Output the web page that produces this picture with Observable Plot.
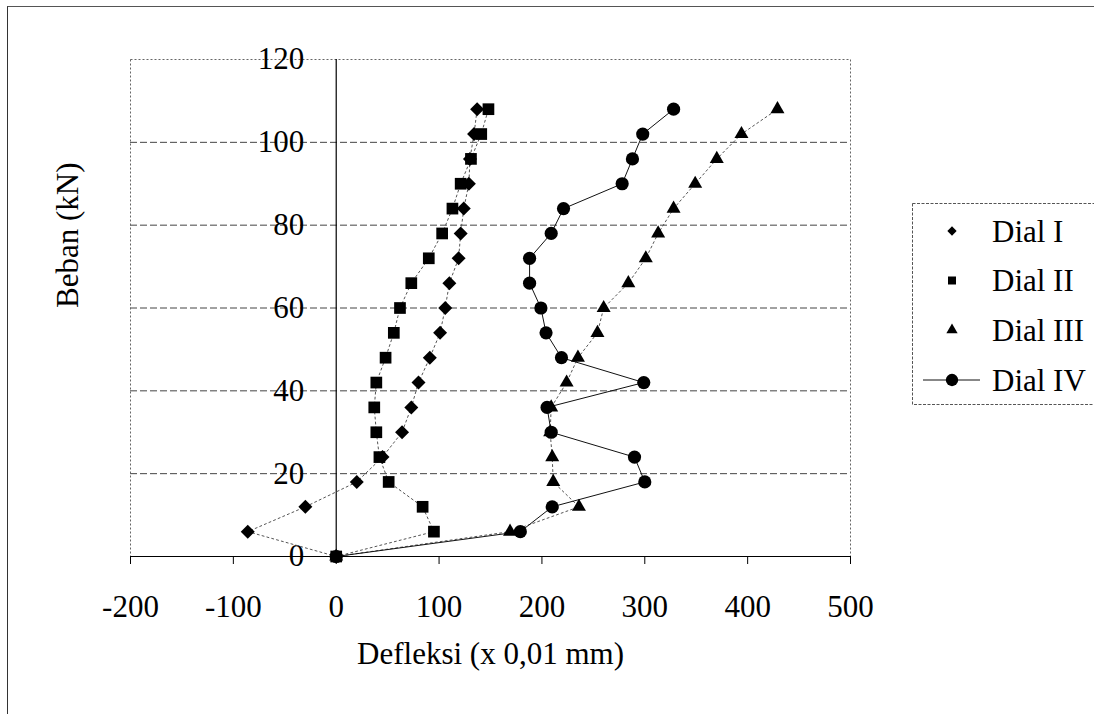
<!DOCTYPE html>
<html>
<head>
<meta charset="utf-8">
<script src="https://cdn.jsdelivr.net/npm/d3@7"></script>
<script src="https://cdn.jsdelivr.net/npm/@observablehq/plot@0.6"></script>
<style>
  html, body { margin: 0; padding: 0; background: #fff; }
  #wrap { position: relative; width: 1094px; height: 714px; overflow: hidden; font-family: "Liberation Serif", "Times New Roman", serif; }
  #border { position: absolute; left: 7px; top: 6px; width: 1200px; height: 800px; border-left: 1px solid #333; border-top: 1px solid #555; }
  #chart { position: absolute; left: 0; top: 0; }
  #legend { position: absolute; left: 0; top: 0; }
</style>
</head>
<body>
<div id="wrap">
  <div id="border"></div>
  <div id="chart"></div>
  <div id="legend"></div>
</div>
<script>
// ---- data ----
const loads = [0, 6, 12, 18, 24, 30, 36, 42, 48, 54, 60, 66, 72, 78, 84, 90, 96, 102, 108];
const dial1 = [0, -86, -30, 20, 45, 64, 73, 80, 91, 101, 106, 110, 119, 121, 124, 129, 130, 134, 137];
const dial2 = [0, 95, 84, 51, 42, 39, 37, 39, 48, 56, 62, 73, 90, 103, 113, 121, 131, 141, 148];
const dial3 = [0, 169, 236, 211, 210, 208, 209, 224, 235, 254, 260, 284, 301, 313, 328, 349, 370, 394, 429];
const dial4 = [0, 179, 210, 300, 290, 209, 205, 299, 219, 204, 199, 188, 188, 209, 221, 278, 288, 298, 328];
const seriesNames = ["Dial I", "Dial II", "Dial III", "Dial IV"];
const xTicks = [-200, -100, 0, 100, 200, 300, 400, 500];
const yTicks = [0, 20, 40, 60, 80, 100, 120];
const xTitle = "Defleksi (x 0,01 mm)";
const yTitle = "Beban (kN)";

const seriesValues = [dial1, dial2, dial3, dial4];
const rows = seriesNames.flatMap((s, i) => loads.map((L, j) => ({series: s, load: L, defl: seriesValues[i][j]})));
const bySeries = s => rows.filter(d => d.series === s);

const symbols = {"Dial I": "diamond2", "Dial II": "square", "Dial III": "triangle", "Dial IV": "circle"};
const radii = {"Dial I": 6.3, "Dial II": 6.6, "Dial III": 5.2, "Dial IV": 6.6};

const chart = Plot.plot({
  width: 1094,
  height: 714,
  marginLeft: 130,
  marginRight: 244,
  marginTop: 59,
  marginBottom: 158,
  style: {fontFamily: "Liberation Serif, Times New Roman, serif", fontSize: "30px", background: "transparent", color: "#000"},
  x: {domain: [-200, 500]},
  y: {domain: [0, 120], axis: null},
  marks: [
    Plot.gridY(yTicks.filter(v => v > 0 && v < 120), {stroke: "#444", strokeOpacity: 1, strokeDasharray: "7,3"}),
    Plot.frame({stroke: "#666", strokeDasharray: "2,2"}),
    Plot.ruleX([0], {stroke: "#000", strokeWidth: 1.2}),
    Plot.ruleY([0], {stroke: "#000", strokeWidth: 1.2}),
    Plot.axisX({ticks: xTicks, tickSize: 8, tickPadding: 30, tickFormat: d => String(d), fontSize: 31, label: null}),
    Plot.text(yTicks, {x: 0, y: d => d, text: d => String(d), textAnchor: "end", dx: -32, fontSize: 31, fill: "#000"}),
    Plot.text([xTitle], {frameAnchor: "bottom", dy: 107, text: d => d, fontSize: 31, fill: "#000"}),
    Plot.text([yTitle], {frameAnchor: "left", dx: -62, rotate: -90, text: d => d, fontSize: 31, fill: "#000"}),
    Plot.line(rows.filter(d => d.series !== "Dial IV"), {x: "defl", y: "load", z: "series", stroke: "#555", strokeWidth: 1, strokeDasharray: "2,3"}),
    Plot.line(bySeries("Dial IV"), {x: "defl", y: "load", stroke: "#111", strokeWidth: 1}),
    ...seriesNames.map(s => Plot.dot(bySeries(s), {x: "defl", y: "load", symbol: () => symbols[s], r: radii[s], fill: "#000", stroke: "none"}))
  ]
});
document.getElementById("chart").appendChild(chart);

// ---- legend (right of the plot) ----
const leg = d3.select("#legend").append("svg").attr("width", 1094).attr("height", 714);
leg.append("rect").attr("x", 912.5).attr("y", 203.5).attr("width", 300).attr("height", 201)
  .attr("fill", "#fff").attr("stroke", "#555").attr("stroke-dasharray", "3,1.5");
const rowY = [231, 280.5, 330, 380];
const legSizes = {"Dial I": 55, "Dial II": 64, "Dial III": 55, "Dial IV": 120};
const d3sym = {"Dial I": d3.symbolDiamond2, "Dial II": d3.symbolSquare, "Dial III": d3.symbolTriangle, "Dial IV": d3.symbolCircle};
seriesNames.forEach((s, i) => {
  const g = leg.append("g");
  if (s === "Dial IV") {
    g.append("line").attr("x1", 923).attr("x2", 980).attr("y1", rowY[i]).attr("y2", rowY[i]).attr("stroke", "#111").attr("stroke-width", 1);
  }
  g.append("path").attr("d", d3.symbol(d3sym[s], legSizes[s])()).attr("transform", `translate(952,${rowY[i]})`).attr("fill", "#000");
  g.append("text").attr("x", 992).attr("y", rowY[i]).attr("dominant-baseline", "central")
    .attr("font-family", "Liberation Serif, Times New Roman, serif").attr("font-size", 31).attr("fill", "#000").text(s);
});
</script>
</body>
</html>
